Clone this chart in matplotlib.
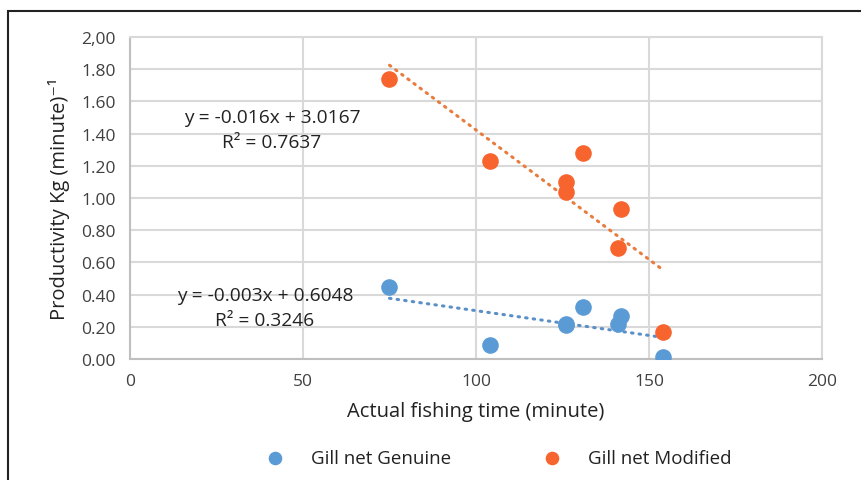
import numpy as np
import matplotlib.pyplot as plt
from matplotlib.patches import Rectangle

plt.rcParams['font.family'] = ['Open Sans', 'DejaVu Sans']

# Data
time_genuine = [75, 104, 126, 126, 131, 141, 142, 154]
prod_genuine = [0.45, 0.09, 0.21, 0.22, 0.32, 0.22, 0.27, 0.01]
time_modified = [75, 104, 126, 126, 131, 141, 142, 154]
prod_modified = [1.74, 1.23, 1.10, 1.04, 1.28, 0.69, 0.93, 0.17]

yticks = [0.0, 0.2, 0.4, 0.6, 0.8, 1.0, 1.2, 1.4, 1.6, 1.8, 2.0]
ytick_labels = ['0.00', '0.20', '0.40', '0.60', '0.80', '1.00', '1.20',
                '1.40', '1.60', '1.80', '2,00']
xticks = [0, 50, 100, 150, 200]

blue = '#5b9bd5'
orange = '#f8642e'
grid_c = '#d9d9d9'
txt_c = '#404040'

fig = plt.figure(figsize=(8.61, 4.81), dpi=100)
ax = fig.add_axes([130 / 861, 1 - 360 / 481, 692 / 861, 322 / 481])

# outer chart frame
fig.patches.append(Rectangle((8 / 861, -0.1), 1.2, 1 - 12 / 481 + 0.1,
                             transform=fig.transFigure, fill=False,
                             edgecolor='#222222', linewidth=1.5))

ax.scatter(time_genuine, prod_genuine, s=120, color=blue, zorder=3,
           label='Gill net Genuine')
ax.scatter(time_modified, prod_modified, s=120, color=orange, zorder=3,
           label='Gill net Modified')

# linear trend lines
for xs, ys, c in [(time_genuine, prod_genuine, '#5a8fc8'),
                  (time_modified, prod_modified, '#e97b3c')]:
    k, b = np.polyfit(xs, ys, 1)
    xx = np.array([min(xs), max(xs)])
    ax.plot(xx, k * xx + b, linestyle=(0, (0.5, 2.0)), color=c,
            linewidth=2.2, dash_capstyle='round', zorder=2)

eq_kw = dict(fontsize=13.8, color='#222222', ha='center', va='center')
ax.text(41, 1.505, 'y = -0.016x + 3.0167', **eq_kw)
ax.text(41, 1.35, 'R² = 0.7637', **eq_kw)
ax.text(39, 0.40, 'y = -0.003x + 0.6048', **eq_kw)
ax.text(39, 0.24, 'R² = 0.3246', **eq_kw)

ax.set_xlim(0, 200)
ax.set_ylim(0, 2.0)
ax.set_xticks(xticks)
ax.set_yticks(yticks)
ax.set_yticklabels(ytick_labels)
ax.tick_params(length=0, labelsize=12.5, colors=txt_c, pad=10)
ax.grid(True, color=grid_c, linewidth=1.5)
ax.set_axisbelow(True)
for s in ax.spines.values():
    s.set_color(grid_c)
    s.set_linewidth(1.5)
ax.spines['bottom'].set_color('#bfbfbf')
ax.spines['left'].set_color('#bfbfbf')

ax.set_xlabel('Actual fishing time (minute)', fontsize=14.5, color='#222222',
              labelpad=9)
ax.set_ylabel('Productivity Kg (minute)⁻¹', fontsize=14.5,
              color='#222222', labelpad=8)

ax.legend(loc='upper center', bbox_to_anchor=(0.526, -0.228), ncol=2,
          frameon=False, fontsize=13.5, handletextpad=0.9, columnspacing=4.4,
          markerscale=0.8, labelcolor='#222222')

fig.savefig('out.png', dpi=100)
